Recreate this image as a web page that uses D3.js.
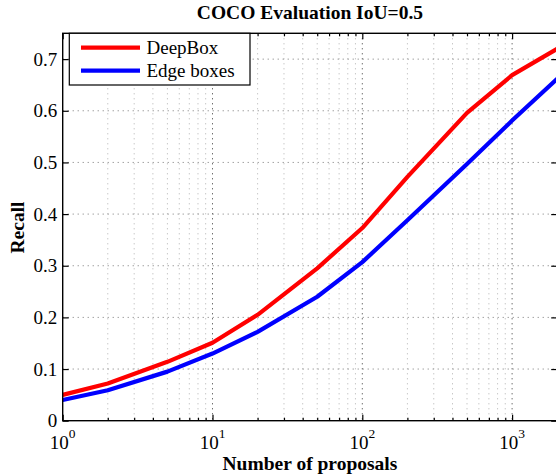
<!DOCTYPE html>
<html>
<head>
<meta charset="utf-8">
<script src="https://cdn.jsdelivr.net/npm/d3@7"></script>
<style>
  html, body { margin: 0; padding: 0; background: #fff; overflow: hidden; }
  svg { display: block; }
</style>
</head>
<body>
<svg id="chart" width="556" height="476" font-family="'Liberation Serif', 'Times New Roman', Times, serif"></svg>
<script>
// ---- data ----
const proposals = [1, 2, 5, 10, 20, 50, 100, 200, 500, 1000, 2000];
const deepBox   = [0.050, 0.072, 0.114, 0.151, 0.205, 0.295, 0.373, 0.472, 0.596, 0.669, 0.720];
const edgeBoxes = [0.040, 0.059, 0.095, 0.130, 0.172, 0.240, 0.307, 0.388, 0.497, 0.581, 0.662];
const seriesNames = ["DeepBox", "Edge boxes"];
const seriesColors = ["#ff0000", "#0000ff"];
const xMajorTicks = [1, 10, 100, 1000];
const xTickExponents = ["0", "1", "2", "3"];
const yTicks = [0, 0.1, 0.2, 0.3, 0.4, 0.5, 0.6, 0.7];
const yTickLabels = ["0", "0.1", "0.2", "0.3", "0.4", "0.5", "0.6", "0.7"];
const titleText = "COCO Evaluation IoU=0.5";
const xLabelText = "Number of proposals";
const yLabelText = "Recall";

// ---- layout ----
const FONT = "'Liberation Serif', 'Times New Roman', Times, serif";
const L = 62.7, R = 557.2, T = 33.3, B = 420.7;
const svg = d3.select("#chart");
const x = d3.scaleLog().domain([1, 2000]).range([L, R]);
const y = d3.scaleLinear().domain([0, 0.75]).range([B, T]);

// minor x values
const xMinor = [];
for (let k = 0; k <= 3; k++) for (let m = 2; m <= 9; m++) {
  const v = m * Math.pow(10, k);
  if (v < 2000) xMinor.push(v);
}

// ---- grid ----
const grid = svg.append("g");
grid.selectAll(".gxm").data(xMinor).join("line")
  .attr("x1", d => x(d)).attr("x2", d => x(d)).attr("y1", T).attr("y2", B)
  .attr("stroke", "#b0b0b0").attr("stroke-width", 1).attr("stroke-dasharray", "1,4");
grid.selectAll(".gxM").data(xMajorTicks.slice(1)).join("line")
  .attr("x1", d => x(d)).attr("x2", d => x(d)).attr("y1", T).attr("y2", B)
  .attr("stroke", "#333").attr("stroke-width", 1).attr("stroke-dasharray", "1,4");
grid.selectAll(".gy").data(yTicks.slice(1)).join("line")
  .attr("x1", L).attr("x2", R).attr("y1", d => y(d)).attr("y2", d => y(d))
  .attr("stroke", "#777").attr("stroke-width", 1).attr("stroke-dasharray", "1,4");

// ---- lines ----
const line = d3.line().x(d => x(d[0])).y(d => y(d[1]));
const series = [deepBox, edgeBoxes];
series.forEach((vals, i) => {
  svg.append("path")
    .datum(proposals.map((p, j) => [p, vals[j]]))
    .attr("d", line)
    .attr("fill", "none")
    .attr("stroke", seriesColors[i])
    .attr("stroke-width", 4.2)
    .attr("stroke-linejoin", "round");
});

// ---- axes (inward ticks) ----
function styleAxis(g) {
  g.select(".domain").remove();
  g.selectAll(".tick line").attr("stroke", "#000").attr("stroke-width", 1.2);
  g.selectAll(".tick text").remove();
}
svg.append("g").attr("transform", `translate(0,${B})`)
  .call(d3.axisBottom(x).tickValues(xMajorTicks).tickSize(-6).tickFormat(""))
  .call(styleAxis);
svg.append("g").attr("transform", `translate(0,${B})`)
  .call(d3.axisBottom(x).tickValues(xMinor).tickSize(-3).tickFormat(""))
  .call(styleAxis);
svg.append("g").attr("transform", `translate(0,${T})`)
  .call(d3.axisTop(x).tickValues(xMajorTicks).tickSize(-6).tickFormat(""))
  .call(styleAxis);
svg.append("g").attr("transform", `translate(0,${T})`)
  .call(d3.axisTop(x).tickValues(xMinor).tickSize(-3).tickFormat(""))
  .call(styleAxis);
svg.append("g").attr("transform", `translate(${L},0)`)
  .call(d3.axisLeft(y).tickValues(yTicks).tickSize(-6).tickFormat(""))
  .call(styleAxis);
svg.append("g").attr("transform", `translate(${R},0)`)
  .call(d3.axisRight(y).tickValues(yTicks).tickSize(-6).tickFormat(""))
  .call(styleAxis);

// frame
svg.append("rect").attr("x", L).attr("y", T).attr("width", R - L).attr("height", B - T)
  .attr("fill", "none").attr("stroke", "#000").attr("stroke-width", 1.4);

// ---- tick labels ----
svg.selectAll(".ylab").data(yTicks).join("text")
  .attr("font-family", FONT)
  .attr("x", L - 5.5).attr("y", d => y(d)).attr("dy", "0.34em")
  .attr("text-anchor", "end").attr("font-size", 19)
  .text((d, i) => yTickLabels[i]);

const xl = svg.selectAll(".xlab").data(xMajorTicks).join("text")
  .attr("font-family", FONT)
  .attr("x", d => x(d)).attr("y", 449)
  .attr("text-anchor", "middle").attr("font-size", 19);
xl.append("tspan").text("10");
xl.append("tspan").attr("font-size", 13.5).attr("dy", -11).text((d, i) => xTickExponents[i]);

// ---- titles ----
const cx = (L + R) / 2;
svg.append("text").attr("font-family", FONT).attr("x", cx).attr("y", 19).attr("text-anchor", "middle")
  .attr("font-size", 19.5).attr("font-weight", "bold").text(titleText);
svg.append("text").attr("font-family", FONT).attr("x", cx).attr("y", 470).attr("text-anchor", "middle")
  .attr("font-size", 19.5).attr("font-weight", "bold").text(xLabelText);
svg.append("text").attr("font-family", FONT).attr("transform", `translate(24,227.5) rotate(-90)`)
  .attr("text-anchor", "middle").attr("font-size", 19.5).attr("font-weight", "bold").text(yLabelText);

// ---- legend ----
const lg = svg.append("g");
lg.append("rect").attr("x", 69.3).attr("y", T).attr("width", 180.7).attr("height", 51.7)
  .attr("fill", "#fff").attr("stroke", "#000").attr("stroke-width", 1.2);
seriesNames.forEach((name, i) => {
  const ly = 47.7 + i * 23;
  lg.append("line").attr("x1", 81).attr("x2", 140).attr("y1", ly).attr("y2", ly)
    .attr("stroke", seriesColors[i]).attr("stroke-width", 4.2);
  lg.append("text").attr("font-family", FONT).attr("x", 146.5).attr("y", ly).attr("dy", "0.35em")
    .attr("font-size", 19).text(name);
});
</script>
</body>
</html>
